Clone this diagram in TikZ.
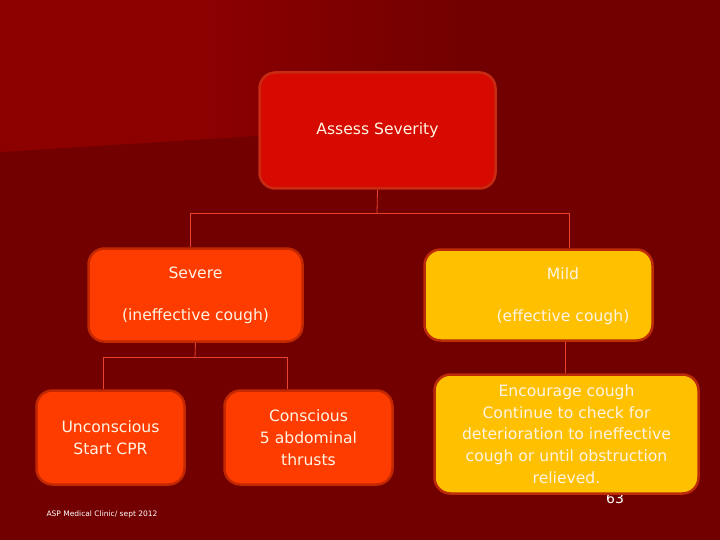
\documentclass[tikz,border=0pt]{standalone}
\usepackage{fontspec}
\setmainfont{DejaVu Sans}
\definecolor{bgdark}{HTML}{730000}
\definecolor{bglight}{HTML}{8C0000}
\definecolor{assessfill}{HTML}{D60A00}
\definecolor{assessedge}{HTML}{C82A12}
\definecolor{orangefill}{HTML}{FF3C00}
\definecolor{orangeedge}{HTML}{C42800}
\definecolor{yellowfill}{HTML}{FFC000}
\definecolor{yellowedge}{HTML}{BC2C08}
\definecolor{linkcol}{HTML}{E8442C}
\definecolor{txtcol}{HTML}{FFF4E4}
\begin{document}
\begin{tikzpicture}[x=1pt,y=-1pt,
  box/.style={rounded corners=16pt, line width=2.5pt, inner sep=0pt, align=center,
    text=txtcol, font=\fontsize{15.6}{21.7}\selectfont},
  redbox/.style={box, fill=assessfill, draw=assessedge},
  orangebox/.style={box, fill=orangefill, draw=orangeedge},
  yellowbox/.style={box, fill=yellowfill, draw=yellowedge},
  link/.style={draw=linkcol, line width=0.8pt}]
\useasboundingbox (0,0) rectangle (720,540);
\fill[bgdark] (0,0) rectangle (720,540);
\begin{scope}
  \clip (0,0) -- (720,0) -- (720,107) -- (0,152) -- cycle;
  \fill[bglight] (0,0) rectangle (200,160);
  \shade[left color=bglight, right color=bgdark] (200,0) rectangle (460,160);
\end{scope}

% page number and footer
\node[text=white, font=\fontsize{14}{16}\selectfont] (pagenum) at (615,498) {63};
\node[text=white, font=\fontsize{7.5}{9}\selectfont, anchor=west] (footer) at (43,514) {ASP Medical Clinic/ sept 2012};

% nodes
\node[redbox, minimum width=236pt, minimum height=116pt] (assess) at (377.5,130.5) {Assess Severity};
\node[orangebox, minimum width=214pt, minimum height=93pt] (severe) at (195.5,295) {Severe\\[20pt](ineffective cough)};
\node[yellowbox, minimum width=228pt, minimum height=91pt] (mild) at (538.5,295) {};
\node[text=txtcol, font=\fontsize{15.6}{21.7}\selectfont, align=center, inner sep=0pt] (mildtext) at (563,296) {Mild\\[20pt](effective cough)};
\node[orangebox, minimum width=148pt, minimum height=94pt] (uncon) at (110.5,437.5) {Unconscious\\Start CPR};
\node[orangebox, minimum width=168pt, minimum height=94pt] (consc) at (308.5,437.5) {Conscious\\5 abdominal\\thrusts};
\node[yellowbox, minimum width=264pt, minimum height=119pt] (enc) at (566.5,434) {Encourage cough\\Continue to check for\\deterioration to ineffective\\cough or until obstruction\\relieved.};

% connectors
\coordinate (top) at (377,213);
\coordinate (topL) at (190,213);
\coordinate (topR) at (569,213);
\draw[link] (assess.south) -- (top);
\draw[link] (topL) -- (topR);
\draw[link] (topL) -- (topL |- severe.north);
\draw[link] (topR) -- (topR |- mild.north);
\coordinate (mid) at (195,357);
\coordinate (midL) at (103,357);
\coordinate (midR) at (287,357);
\draw[link] (severe.south) -- (mid);
\draw[link] (midL) -- (midR);
\draw[link] (midL) -- (midL |- uncon.north);
\draw[link] (midR) -- (midR |- consc.north);
\coordinate (mildbot) at (565,342);
\draw[link] (mildbot) -- (mildbot |- enc.north);
\end{tikzpicture}
\end{document}
